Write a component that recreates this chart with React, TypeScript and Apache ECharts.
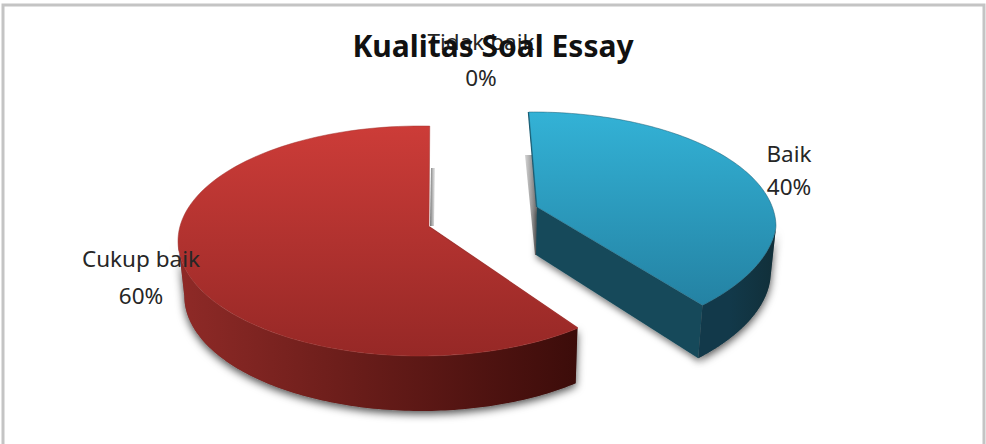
import React, { useEffect, useRef } from "react";
import * as echarts from "echarts";

const chartTitle = "Kualitas Soal Essay";
const categories = ["Baik", "Cukup baik", "Tidak baik"];
const values = [40, 60, 0];

const total = values.reduce((a, b) => a + b, 0);
const deg = Math.PI / 180;
const baseX = (x: number) => x - (x - 490) * 0.02;

const views: any[] = [
  { cx: 533, cy: 227, rx: 243, ry: 115, tuck: 0.07, apex: [537, 207], phiStart: -1, phiScale: 0.93, depth: 53, apexDepth: 48, labelX: 789, labelY: 170, lineHeight: 33,
    top: ["#33b2d6", "#2482a3"], wall: ["#12394a", "#112f39"], cut: "#15495a", edge: "#1a5a70",
    shadow: [[525, 155], [532, 155], [538, 207], [538, 255], [535, 255]] },
  { cx: 420, cy: 241, rx: 242, ry: 115, tuck: 0, apex: [429, 227], phiStart: 139.4, phiScale: 1.032, depth: 55, apexDepth: 48, labelX: 141, labelY: 277, lineHeight: 37,
    top: ["#cc3c38", "#962826"], wall: ["#8f2a27", "#3c0c0a"], cut: "#5a1512", edge: "#a33431",
    shadow: [[431, 168], [435, 168], [434, 226], [430, 226]] },
  { labelX: 481, labelY: 59, lineHeight: 36 },
];

function renderSlice(params: any, api: any) {
  const i = params.dataIndex;
  const v = api.value(0);
  const view = views[i];
  const pct = Math.round((v / total) * 100);
  const children: any[] = [];
  if (v > 0) {
    const span = (v / total) * 360;
    const phi0 = view.phiStart;
    const phi1 = phi0 + span * view.phiScale;
    const at = (phi: number): number[] => {
      const c = Math.cos(phi * deg);
      const squeeze = 1 - view.tuck * Math.max(0, -c);
      return [view.cx + view.rx * squeeze * Math.sin(phi * deg), view.cy - view.ry * c];
    };
    const steps = 120;
    const arc: number[][] = [];
    for (let s = 0; s <= steps; s++) arc.push(at(phi0 + ((phi1 - phi0) * s) / steps));
    const low = Math.max(phi0, 90);
    const high = Math.min(phi1, 270);
    const rim: number[][] = [];
    for (let s = 0; s <= steps; s++) rim.push(at(low + ((high - low) * s) / steps));
    const wall = rim.concat(rim.slice().reverse().map((p) => [baseX(p[0]), p[1] + view.depth]));
    const tip = at(phi1);
    const apex = view.apex;
    children.push({
      type: "polygon",
      shape: { points: wall },
      style: { fill: "#777", shadowBlur: 8, shadowColor: "rgba(0,0,0,0.7)", shadowOffsetX: 0, shadowOffsetY: 3 },
    });
    children.push({
      type: "polygon",
      shape: { points: view.shadow },
      style: {
        fill: { type: "linear", x: 0, y: 0, x2: 1, y2: 0, colorStops: [
          { offset: 0, color: i === 0 ? "rgba(130,130,130,0.35)" : "#6e6e6e" },
          { offset: 1, color: i === 0 ? "#5a5a5a" : "rgba(170,170,170,0.3)" },
        ] },
      },
    });
    if (phi1 < 180) {
      children.push({
        type: "polygon",
        shape: { points: [apex, tip, [baseX(tip[0]), tip[1] + view.depth], [baseX(apex[0]), apex[1] + view.apexDepth]] },
        style: { fill: view.cut, shadowBlur: 6, shadowColor: "rgba(0,0,0,0.5)", shadowOffsetY: 3 },
      });
    }
    children.push({
      type: "polygon",
      shape: { points: wall },
      style: {
        fill: { type: "linear", x: 0, y: 0, x2: 1, y2: 0, colorStops: [
          { offset: 0, color: view.wall[0] },
          { offset: 0.4, color: i === 1 ? "#6d1e1b" : view.wall[0] },
          { offset: 1, color: view.wall[1] },
        ] },
      },
    });
    children.push({
      type: "line",
      shape: { x1: arc[0][0], y1: arc[0][1], x2: apex[0], y2: apex[1] },
      style: { stroke: view.edge, lineWidth: 2 },
    });
    children.push({
      type: "polygon",
      shape: { points: arc.concat([apex]) },
      style: {
        fill: { type: "linear", x: 0, y: 0, x2: 0, y2: 1, colorStops: [
          { offset: 0, color: view.top[0] },
          { offset: 1, color: view.top[1] },
        ] },
        stroke: view.edge,
        lineWidth: 0.5,
      },
    });
  }
  children.push({
    type: "text",
    style: {
      x: view.labelX,
      y: view.labelY,
      text: categories[i] + "\n" + pct + "%",
      fill: "#262626",
      font: '22.5px "Noto Sans"',
      lineHeight: view.lineHeight,
      align: "center",
      verticalAlign: "middle",
    },
  });
  return { type: "group", children };
}

export default function App() {
  const ref = useRef<HTMLDivElement>(null);
  useEffect(() => {
    document.body.style.margin = "0";
    document.body.style.overflow = "hidden";
    const chart = echarts.init(ref.current!, null, { renderer: "svg" });
    chart.setOption({
      animation: false,
      backgroundColor: "#ffffff",
      title: {
        text: chartTitle,
        left: 488,
        top: 25,
        textAlign: "center",
        textStyle: { fontFamily: "Noto Sans", fontSize: 30, fontWeight: "bold", color: "#111111" },
      },
      graphic: [
        {
          type: "polyline",
          z: 100,
          shape: { points: [[3, 444], [3, 5], [984, 5], [984, 444]] },
          style: { stroke: "#c4c4c4", lineWidth: 3, fill: "none" },
        },
      ],
      series: [
        {
          type: "custom",
          coordinateSystem: "none",
          renderItem: renderSlice,
          data: values.map((v, k) => ({ name: categories[k], value: [v] })),
        },
      ],
    });
    return () => chart.dispose();
  }, []);
  return <div ref={ref} style={{ width: 986, height: 444 }} />;
}
